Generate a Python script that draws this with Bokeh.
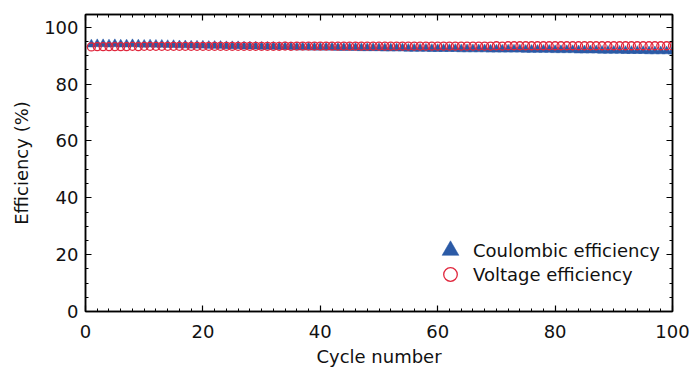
from bokeh.plotting import figure
from bokeh.models import (Range1d, LinearAxis, Legend, LegendItem, SingleIntervalTicker,
                          CustomJSTickFormatter, ColumnDataSource)
from bokeh.embed import file_html
from bokeh.resources import INLINE

cycles = list(range(1, 101))
coulombic = [
    94.0, 94.1, 94.1, 94.0, 94.1, 94.0, 94.0, 94.1, 94.0, 93.9,
    94.0, 93.9, 93.9, 93.8, 93.8, 93.7, 93.7, 93.6, 93.6, 93.6,
    93.5, 93.5, 93.5, 93.4, 93.4, 93.4, 93.3, 93.3, 93.3, 93.2,
    93.2, 93.2, 93.1, 93.1, 93.1, 93.0, 93.0, 93.0, 92.9, 92.9,
    92.9, 92.9, 92.8, 92.8, 92.8, 92.8, 92.7, 92.7, 92.7, 92.7,
    92.6, 92.6, 92.6, 92.6, 92.5, 92.5, 92.5, 92.5, 92.4, 92.4,
    92.4, 92.4, 92.4, 92.3, 92.3, 92.3, 92.3, 92.3, 92.2, 92.2,
    92.2, 92.2, 92.2, 92.2, 92.1, 92.1, 92.1, 92.1, 92.1, 92.0,
    92.0, 92.0, 92.0, 91.9, 91.9, 91.9, 91.9, 91.8, 91.8, 91.8,
    91.8, 91.7, 91.7, 91.7, 91.7, 91.6, 91.6, 91.6, 91.6, 91.5,
]
voltage = [
    93.1, 93.2, 93.2, 93.2, 93.2, 93.2, 93.2, 93.3, 93.2, 93.3,
    93.3, 93.3, 93.3, 93.3, 93.3, 93.3, 93.3, 93.3, 93.3, 93.3,
    93.3, 93.3, 93.3, 93.3, 93.3, 93.3, 93.3, 93.3, 93.3, 93.3,
    93.3, 93.3, 93.3, 93.4, 93.3, 93.4, 93.4, 93.4, 93.4, 93.4,
    93.4, 93.4, 93.4, 93.4, 93.4, 93.4, 93.4, 93.4, 93.4, 93.4,
    93.4, 93.4, 93.4, 93.4, 93.4, 93.4, 93.4, 93.4, 93.4, 93.4,
    93.4, 93.4, 93.4, 93.4, 93.4, 93.4, 93.4, 93.4, 93.4, 93.5,
    93.4, 93.5, 93.5, 93.5, 93.5, 93.5, 93.5, 93.5, 93.5, 93.5,
    93.5, 93.5, 93.5, 93.5, 93.5, 93.5, 93.5, 93.5, 93.5, 93.5,
    93.5, 93.5, 93.5, 93.5, 93.5, 93.5, 93.5, 93.5, 93.5, 93.5,
]
x_label = "Cycle number"
y_label = "Efficiency (%)"
ce_label = "Coulombic efficiency"
ve_label = "Voltage efficiency"

FONT = "DejaVu Sans"
BLUE = "#2b5aa6"
RED = "#e0263c"

src = ColumnDataSource(dict(cycle=cycles, ce=coulombic, ve=voltage))

p = figure(width=694, height=373, output_backend="svg", toolbar_location=None,
           x_range=Range1d(0, 100), y_range=Range1d(0, 104.5),
           min_border_left=85, min_border_right=22, min_border_top=14, min_border_bottom=62)
p.background_fill_color = "white"
p.border_fill_color = "white"
p.outline_line_color = "black"
p.outline_line_width = 1.5
p.grid.visible = False

r1 = p.scatter("cycle", "ce", source=src, marker="triangle", size=9,
               fill_color=BLUE, line_color=BLUE, line_width=0.5)
r2 = p.scatter("cycle", "ve", source=src, marker="circle", size=8,
               fill_color=None, line_color=RED, line_width=1.3)

def style_axis(ax, minor, show_labels):
    ax.ticker = SingleIntervalTicker(interval=20, num_minor_ticks=minor)
    ax.major_tick_in = 6
    ax.major_tick_out = 0
    ax.minor_tick_in = 3
    ax.minor_tick_out = 0
    ax.axis_line_width = 1.5
    ax.major_tick_line_width = 1.2
    ax.minor_tick_line_width = 1
    ax.major_label_text_font = FONT
    ax.major_label_text_font_size = "18px"
    ax.major_label_text_color = "#111111"
    ax.axis_label_text_font = FONT
    ax.axis_label_text_font_size = "18px"
    ax.axis_label_text_font_style = "normal"
    ax.axis_label_text_color = "#111111"
    if not show_labels:
        ax.formatter = CustomJSTickFormatter(code="return ''")
        ax.major_label_standoff = 0

xa = p.xaxis[0]
ya = p.yaxis[0]
style_axis(xa, 10, True)
style_axis(ya, 4, True)
xa.axis_label = x_label
ya.axis_label = y_label
xa.major_label_standoff = 13
xa.axis_label_standoff = 5
ya.major_label_standoff = 7
ya.axis_label_standoff = 9

ra = LinearAxis()
style_axis(ra, 4, False)
p.add_layout(ra, "right")
ta = LinearAxis()
style_axis(ta, 10, False)
p.add_layout(ta, "above")

def make_legend(label, rend, loc, box, standoff):
    lg = Legend(items=[LegendItem(label=label, renderers=[rend])], location=loc,
                glyph_width=box, glyph_height=box, label_height=20, padding=0,
                spacing=0, margin=0, label_standoff=standoff,
                background_fill_alpha=0, border_line_color=None,
                label_text_font=FONT, label_text_font_size="18px",
                label_text_color="#111111")
    return lg

p.add_layout(make_legend(ce_label, r1, (344, 40), 42, 2), "center")
p.add_layout(make_legend(ve_label, r2, (348, 20), 34, 6), "center")

open("out.html", "w").write(file_html(p, INLINE))
